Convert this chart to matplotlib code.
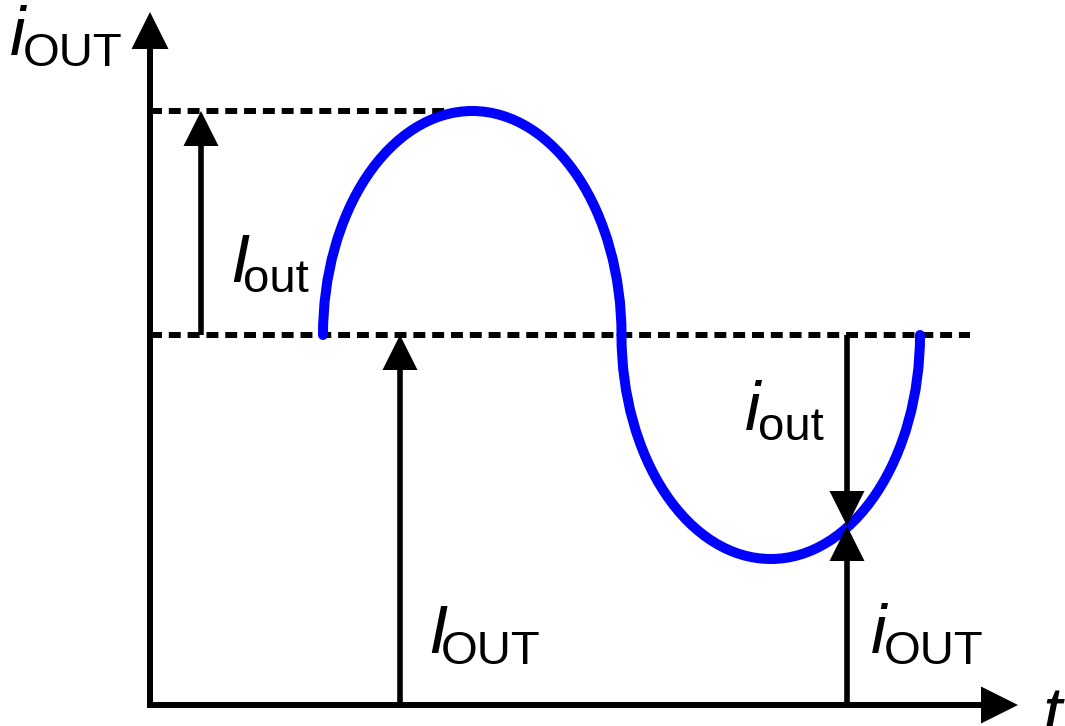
import matplotlib.pyplot as plt
from matplotlib.patches import Arc

plt.rcParams['font.family'] = ['Liberation Sans', 'DejaVu Sans']

# output current waveform (drawing units, 1 unit = 100 px)
I_dc = 3.70          # average output current I_OUT
i_amp = 2.24         # ripple amplitude I_out
t_start = 1.73       # waveform starts here
half_period = 2.985  # half of one ripple period
t_sample = 6.97      # instant where i_OUT / i_out are marked
i_sample = 1.79      # instantaneous i_OUT at t_sample

# where the annotation arrows stand
x_Iout = 0.51
x_IOUT = 2.50
peak_dash_end = 3.10
dc_dash_end = 8.20
t_axis_end = 8.68
i_axis_end = 6.93

fig = plt.figure(figsize=(10.65, 7.26), dpi=100)
ax = fig.add_axes([0, 0, 1, 1])
ax.set_xlim(-1.50, 9.15)
ax.set_ylim(-0.21, 7.05)
ax.axis('off')


def arrow(x0, y0, x1, y1, w=0.056, head=0.35):
    ax.arrow(x0, y0, x1 - x0, y1 - y0, width=w, head_width=head,
             head_length=head, length_includes_head=True,
             color='black', lw=0, zorder=4)


def label(x, y, main, sub):
    ax.text(x, y, main, fontsize=50, style='italic', va='baseline', ha='left')
    ax.text(x + 0.13, y - 0.105, sub, fontsize=34, va='baseline', ha='left')


# axes
arrow(-0.03, 0, t_axis_end, 0, w=0.06, head=0.37)
arrow(0, -0.03, 0, i_axis_end, w=0.06, head=0.37)

# dashed levels: peak and average
dash = (0, (2.0, 1.15))
ax.plot([0, peak_dash_end], [I_dc + i_amp] * 2, color='black', lw=4.3,
        linestyle=dash, zorder=2)
ax.plot([0, dc_dash_end], [I_dc] * 2, color='black', lw=4.3,
        linestyle=dash, zorder=2)

# ripple current: positive and negative half waves
pos = Arc((t_start + half_period / 2, I_dc), half_period, 2 * i_amp,
          theta1=0, theta2=180, color='#0000ff', lw=7.2, zorder=3)
neg = Arc((t_start + 1.5 * half_period, I_dc), half_period, 2 * i_amp,
          theta1=180, theta2=360, color='#0000ff', lw=7.2, zorder=3)
pos.set_capstyle('round')
neg.set_capstyle('round')
ax.add_patch(pos)
ax.add_patch(neg)

# annotation arrows
arrow(x_Iout, I_dc, x_Iout, I_dc + i_amp)
arrow(x_IOUT, 0, x_IOUT, I_dc)
arrow(t_sample, I_dc, t_sample, i_sample)
arrow(t_sample, 0, t_sample, i_sample)

# labels
label(-1.40, 6.50, 'i', 'OUT')
label(0.80, 4.23, 'I', 'out')
label(2.78, 0.52, 'I', 'OUT')
label(5.95, 2.75, 'i', 'out')
label(7.21, 0.52, 'i', 'OUT')
ax.text(8.93, -0.30, 't', fontsize=50, style='italic', va='baseline', ha='left')

fig.savefig('out.png', dpi=100)
